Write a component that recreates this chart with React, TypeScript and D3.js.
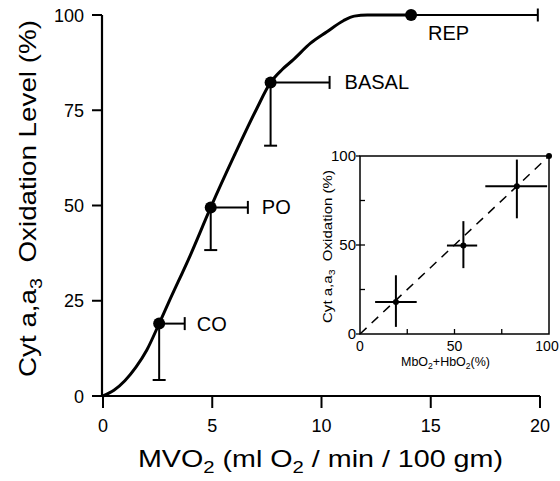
import React from "react";
import * as d3 from "d3";

// Main chart data
const mainLabels = ["CO", "PO", "BASAL", "REP"];
const mainX = [2.57, 4.93, 7.67, 14.1];
const mainY = [19, 49.5, 82.3, 100];
const mainXHi = [3.74, 6.63, 10.37, 19.9];
const mainYLo: (number | null)[] = [4.2, 38.3, 65.7, null];

// Fitted curve
const curveX = [0, 0.5, 1, 1.5, 2, 2.57, 3, 4, 4.93, 6, 7, 7.67, 8.2, 8.7, 9.5, 10.25, 11, 11.5, 12.1, 14.1];
const curveY = [0, 1.5, 4, 7.5, 12, 19, 24.5, 37, 49.5, 63, 75, 82.3, 85.7, 88.2, 92.6, 95.6, 98.5, 99.7, 100, 100];

const xTicks = [0, 5, 10, 15, 20];
const yTicks = [0, 25, 50, 75, 100];

// Inset data
const insetX = [19, 54.7, 83, 100];
const insetY = [18, 49.7, 83, 100];
const insetXLo: (number | null)[] = [8, 46, 66.3, null];
const insetXHi: (number | null)[] = [30, 62, 99, null];
const insetYLo: (number | null)[] = [4, 37, 65, null];
const insetYHi: (number | null)[] = [33, 63.4, 98, null];
const insetTicks = [0, 50, 100];
const insetMinor = [25, 50, 75];

const FONT = "'Liberation Sans', Arial, Helvetica, sans-serif";

export default function App() {
  const x = d3.scaleLinear().domain([0, 20]).range([103, 540]);
  const y = d3.scaleLinear().domain([0, 100]).range([396, 15]);
  const line = d3
    .line<number>()
    .x((_, i) => x(curveX[i]))
    .y((d) => y(d))
    .curve(d3.curveMonotoneX);

  const ix = d3.scaleLinear().domain([0, 100]).range([360, 549]);
  const iy = d3.scaleLinear().domain([0, 100]).range([334, 156]);

  const labelOffsets: Record<string, [number, number]> = {
    CO: [12, 7],
    PO: [14, 7],
    BASAL: [15, 7],
    REP: [17, 25],
  };

  return (
    <svg
      width={560}
      height={481}
      style={{ position: "absolute", left: 0, top: 0, background: "#fff" }}
      fontFamily={FONT}
    >
      <rect width={560} height={481} fill="#fff" />
      {/* Main axes */}
      <line x1={102} x2={102} y1={y(0)} y2={y(100)} stroke="#000" strokeWidth={2.2} />
      <line x1={102} x2={x(20)} y1={396} y2={396} stroke="#000" strokeWidth={2.2} />
      {yTicks.map((t) => (
        <g key={"yt" + t}>
          <line x1={92} x2={102} y1={y(t)} y2={y(t)} stroke="#000" strokeWidth={2} />
          <text x={84} y={y(t) + 6.5} fontSize={18} textAnchor="end">
            {t}
          </text>
        </g>
      ))}
      {xTicks.map((t) => (
        <g key={"xt" + t}>
          <line x1={x(t)} x2={x(t)} y1={396} y2={408} stroke="#000" strokeWidth={2} />
          <text x={x(t)} y={432} fontSize={18} textAnchor="middle">
            {t}
          </text>
        </g>
      ))}
      {/* Axis titles */}
      <text x={138} y={467} fontSize={24} textLength={365} lengthAdjust="spacingAndGlyphs">
        MVO<tspan fontSize={17} dy={6}>2</tspan>
        <tspan dy={-6}> (ml O</tspan>
        <tspan fontSize={17} dy={6}>2</tspan>
        <tspan dy={-6}> / min / 100 gm)</tspan>
      </text>
      <text
        transform="translate(36,377) rotate(-90)"
        fontSize={24}
        textLength={357}
        lengthAdjust="spacingAndGlyphs"
      >
        Cyt a,a<tspan fontSize={17} dy={6}>3</tspan>
        <tspan dy={-6}>{"\u00a0\u00a0Oxidation Level (%)"}</tspan>
      </text>

      {/* Curve */}
      <path d={line(curveY) || ""} fill="none" stroke="#000" strokeWidth={3} />

      {/* Error bars & points */}
      {mainLabels.map((lab, i) => {
        const px = x(mainX[i]);
        const py = y(mainY[i]);
        const hx = x(mainXHi[i]);
        const lo = mainYLo[i];
        const [ox, oy] = labelOffsets[lab];
        const lx = lab === "REP" ? px + ox : hx + ox;
        return (
          <g key={lab}>
            <line x1={px} x2={hx} y1={py} y2={py} stroke="#000" strokeWidth={2} />
            <line x1={hx} x2={hx} y1={py - 6.5} y2={py + 6.5} stroke="#000" strokeWidth={2} />
            {lo !== null && (
              <>
                <line x1={px} x2={px} y1={py} y2={y(lo)} stroke="#000" strokeWidth={2} />
                <line x1={px - 6.5} x2={px + 6.5} y1={y(lo)} y2={y(lo)} stroke="#000" strokeWidth={2} />
              </>
            )}
            <circle cx={px} cy={py} r={6} fill="#000" />
            <text x={lx} y={py + oy} fontSize={20}>
              {lab}
            </text>
          </g>
        );
      })}

      {/* Inset */}
      <rect x={ix(0)} y={iy(100)} width={ix(100) - ix(0)} height={iy(0) - iy(100)} fill="#fff" stroke="#000" strokeWidth={1.5} />
      <line
        x1={ix(0)}
        y1={iy(0)}
        x2={ix(100)}
        y2={iy(100)}
        stroke="#000"
        strokeWidth={1.5}
        strokeDasharray="9,7"
      />
      {insetMinor.map((t) => (
        <g key={"im" + t}>
          <line x1={ix(0)} x2={ix(0) + 5} y1={iy(t)} y2={iy(t)} stroke="#000" strokeWidth={1.3} />
          <line x1={ix(t)} x2={ix(t)} y1={iy(0)} y2={iy(0) - 5} stroke="#000" strokeWidth={1.3} />
        </g>
      ))}
      {insetTicks.map((t) => (
        <g key={"it" + t}>
          <line x1={ix(0) - 4} x2={ix(0)} y1={iy(t)} y2={iy(t)} stroke="#000" strokeWidth={1.3} />
          <text x={ix(0) - 4} y={iy(t) + 5} fontSize={15} textAnchor="end">
            {t}
          </text>
          <text x={t === 100 ? ix(t) - 2 : ix(t)} y={351} fontSize={14} textAnchor="middle">
            {t}
          </text>
        </g>
      ))}
      <text x={401} y={366} fontSize={13} textLength={89} lengthAdjust="spacingAndGlyphs">
        MbO<tspan fontSize={9} dy={3}>2</tspan>
        <tspan dy={-3}>+HbO</tspan>
        <tspan fontSize={9} dy={3}>2</tspan>
        <tspan dy={-3}>(%)</tspan>
      </text>
      <text
        transform="translate(332,323) rotate(-90)"
        fontSize={13}
        textLength={153}
        lengthAdjust="spacingAndGlyphs"
      >
        Cyt a,a<tspan fontSize={9} dy={3}>3</tspan>
        <tspan dy={-3}>{"\u00a0\u00a0Oxidation (%)"}</tspan>
      </text>
      {insetX.map((v, i) => {
        const px = ix(v);
        const py = iy(insetY[i]);
        const xl = insetXLo[i];
        const xh = insetXHi[i];
        const yl = insetYLo[i];
        const yh = insetYHi[i];
        return (
          <g key={"ip" + i}>
            {xl !== null && xh !== null && (
              <line x1={ix(xl)} x2={ix(xh)} y1={py} y2={py} stroke="#000" strokeWidth={2} />
            )}
            {yl !== null && yh !== null && (
              <line x1={px} x2={px} y1={iy(yl)} y2={iy(yh)} stroke="#000" strokeWidth={2} />
            )}
            <circle cx={px} cy={py} r={3} fill="#000" />
          </g>
        );
      })}
    </svg>
  );
}
